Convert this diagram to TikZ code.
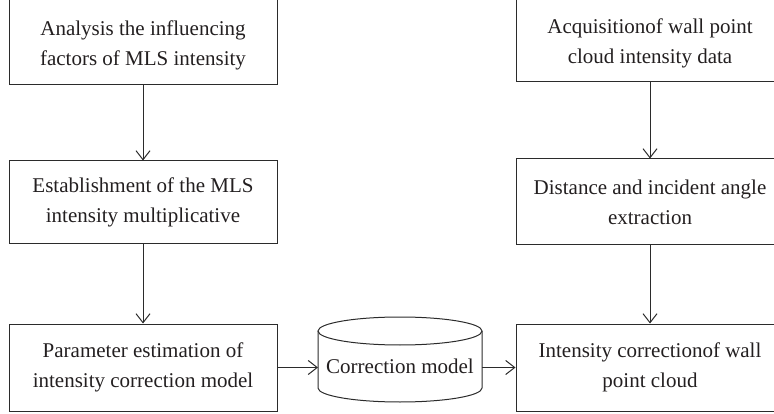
\documentclass[tikz,border=0pt]{standalone}
\usepackage{fontspec}
\setmainfont{Liberation Serif}
\usetikzlibrary{arrows.meta}
\definecolor{linec}{HTML}{2B2B2B}
\definecolor{textc}{HTML}{231F20}
\tikzset{
  flowbox/.style={draw=linec, line width=1pt, minimum width=268pt, align=center, inner sep=0pt,
    text=textc, font=\fontsize{21}{30}\selectfont},
  boxtext/.style={align=center, inner sep=0pt, text=textc, font=\fontsize{21}{30}\selectfont},
  conn/.style={draw=linec, line width=1pt, -{Straight Barb[length=9pt,width=14pt]}},
  cylline/.style={draw=linec, line width=1pt}
}
\begin{document}
\begin{tikzpicture}[x=1pt,y=-1pt]
\useasboundingbox (0,0) rectangle (774,414);
\clip (0,0) rectangle (774,414);
% left column
\node[flowbox, minimum height=95pt] (a1) at (143,37.5) {};
\node[boxtext] (a1t) at (143,45) {Analysis the influencing\\factors of MLS intensity};
\node[flowbox, minimum height=83pt] (a2) at (143,202.5) {Establishment of the MLS\\intensity multiplicative};
\node[flowbox, minimum height=87pt] (a3) at (143,367.5) {Parameter estimation of\\intensity correction model};
% right column
\node[flowbox, minimum height=94pt] (b1) at (650,35) {};
\node[boxtext] (b1t) at (650,43.5) {Acquisitionof wall point\\cloud intensity data};
\node[flowbox, minimum height=86pt] (b2) at (650,202) {Distance and incident angle\\extraction};
\node[flowbox, minimum height=87pt] (b3) at (650,367.5) {Intensity correctionof wall\\point cloud};
% cylinder
\path[cylline] (318,331) .. controls (318,323.27) and (354.7,317) .. (400,317)
  .. controls (445.3,317) and (482,323.27) .. (482,331)
  .. controls (482,338.73) and (445.3,345) .. (400,345)
  .. controls (354.7,345) and (318,338.73) .. cycle;
\path[cylline] (318,331) -- (318,388)
  .. controls (318,395.73) and (354.7,402) .. (400,402)
  .. controls (445.3,402) and (482,395.73) .. (482,388) -- (482,331);
\node[boxtext] (cyl) at (400,366) {Correction model};
\coordinate (cylL) at (318,367.5);
\coordinate (cylR) at (482,367.5);
% connectors
\draw[conn] (a1) -- (a2);
\draw[conn] (a2) -- (a3);
\draw[conn] (b1) -- (b2);
\draw[conn] (b2) -- (b3);
\draw[conn] (a3.east) -- (cylL);
\draw[conn] (cylR) -- (b3.west);
\end{tikzpicture}
\end{document}
